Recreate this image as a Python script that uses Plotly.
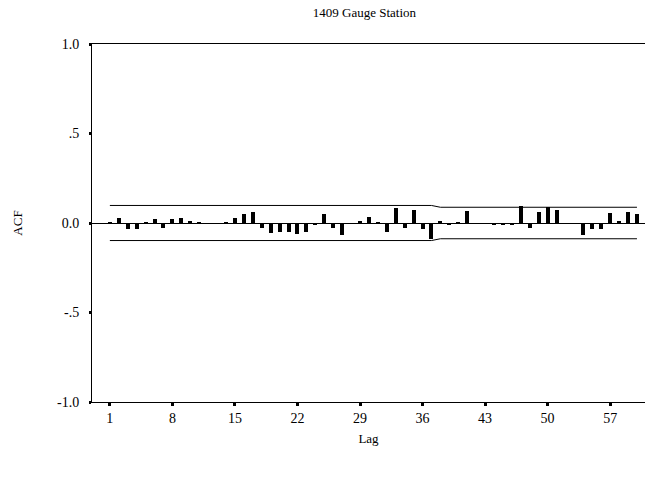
import plotly.graph_objects as go

lags = list(range(1, 61))
acf = [0.003, 0.028, -0.035, -0.035, 0.005, 0.02, -0.028, 0.02, 0.028, 0.013,
       0.003, -0.003, -0.003, 0.003, 0.03, 0.05, 0.063, -0.03, -0.058, -0.052,
       -0.052, -0.063, -0.05, -0.013, 0.05, -0.028, -0.069, -0.003, 0.013, 0.032,
       0.003, -0.048, 0.082, -0.028, 0.073, -0.035, -0.091, 0.012, -0.013, 0.003,
       0.067, -0.003, -0.003, -0.013, -0.013, -0.013, 0.093, -0.03, 0.06, 0.088,
       0.073, -0.003, -0.003, -0.067, -0.035, -0.035, 0.058, 0.013, 0.063, 0.05]
upper = [0.098] * 37 + [0.088] * 23
lower = [-v for v in upper]

x_tickvals = [1, 8, 15, 22, 29, 36, 43, 50, 57]
y_tickvals = [-1.0, -0.5, 0.0, 0.5, 1.0]
y_ticktext = ["-1.0", "-.5", "0.0", ".5", "1.0"]

font_family = "Liberation Serif, Times New Roman, serif"

fig = go.Figure()
fig.add_trace(go.Bar(x=lags, y=acf, width=0.45,
                     marker=dict(color="black", line=dict(width=0)),
                     showlegend=False))
fig.add_trace(go.Scatter(x=lags, y=upper, mode="lines",
                         line=dict(color="black", width=1), showlegend=False))
fig.add_trace(go.Scatter(x=lags, y=lower, mode="lines",
                         line=dict(color="black", width=1), showlegend=False))

fig.update_layout(
    width=645, height=479,
    margin=dict(l=92, r=0, t=44, b=77),
    paper_bgcolor="white", plot_bgcolor="white",
    font=dict(family=font_family, size=13, color="black"),
    title=dict(text="1409 Gauge Station", x=0.565, xanchor="center",
               y=0.975, yanchor="middle", font=dict(size=13, color="black")),
    bargap=0,
)
fig.update_xaxes(range=[-1.0, 60.9], tickvals=x_tickvals,
                 showgrid=False, zeroline=False,
                 showline=True, linecolor="black", linewidth=1, mirror=True,
                 ticks="outside", ticklen=3, tickwidth=3, tickcolor="black",
                 tickfont=dict(size=14, color="black"),
                 title=dict(text="Lag", standoff=9, font=dict(size=13, color="black")))
fig.update_yaxes(range=[-1.0, 1.0], tickvals=y_tickvals, ticktext=y_ticktext,
                 showgrid=False, zeroline=True, zerolinecolor="black", zerolinewidth=1,
                 showline=True, linecolor="black", linewidth=1,
                 ticks="outside", ticklen=2, tickwidth=3, tickcolor="black",
                 ticklabelstandoff=7,
                 tickfont=dict(size=14, color="black"),
                 title=dict(text="ACF", standoff=31, font=dict(size=13, color="black")))

fig.write_html("out.html")
